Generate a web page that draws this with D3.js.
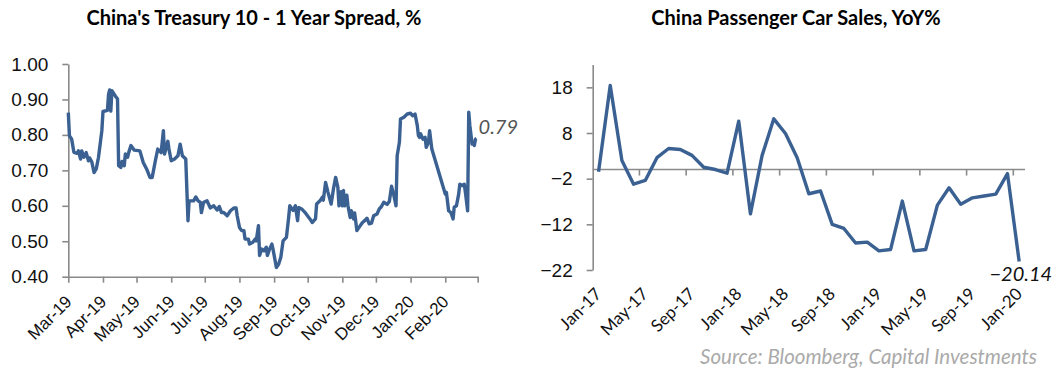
<!DOCTYPE html>
<html>
<head>
<meta charset="utf-8">
<script src="https://cdn.jsdelivr.net/npm/d3@7"></script>
<style>
  html, body { margin: 0; padding: 0; background: #fff; }
  svg { display: block; font-family: Lato, "Open Sans", sans-serif; }
  .axis path, .axis line { stroke: #8a8a8a; stroke-width: 1.6; }
  .axis text { fill: #111; }
</style>
</head>
<body>
<svg id="chart" width="1059" height="372"></svg>
<script>
// ---- China 10Y - 1Y treasury spread, daily (%) ----
const spreadDates = [
  "2019-03-01","2019-03-02","2019-03-04","2019-03-06","2019-03-09","2019-03-10","2019-03-12","2019-03-13","2019-03-15","2019-03-17",
  "2019-03-19","2019-03-20","2019-03-22","2019-03-24","2019-03-26","2019-03-28","2019-03-31","2019-04-01","2019-04-05","2019-04-06",
  "2019-04-07","2019-04-08","2019-04-09","2019-04-11","2019-04-12","2019-04-14","2019-04-15","2019-04-17","2019-04-18","2019-04-20",
  "2019-04-21","2019-04-23","2019-04-24","2019-04-26","2019-04-29","2019-05-04","2019-05-07","2019-05-10","2019-05-13","2019-05-15",
  "2019-05-18","2019-05-20","2019-05-23","2019-05-25","2019-05-26","2019-05-29","2019-05-30","2019-06-01","2019-06-04","2019-06-07",
  "2019-06-09","2019-06-11","2019-06-14","2019-06-16","2019-06-17","2019-06-21","2019-06-23","2019-06-25","2019-06-27","2019-06-28",
  "2019-06-30","2019-07-03","2019-07-06","2019-07-09","2019-07-12","2019-07-14","2019-07-16","2019-07-18","2019-07-21","2019-07-24",
  "2019-07-27","2019-07-29","2019-07-30","2019-08-01","2019-08-03","2019-08-05","2019-08-06","2019-08-09","2019-08-10","2019-08-13",
  "2019-08-15","2019-08-16","2019-08-18","2019-08-19","2019-08-21","2019-08-23","2019-08-25","2019-08-26","2019-08-28","2019-08-30",
  "2019-08-31","2019-09-03","2019-09-05","2019-09-07","2019-09-09","2019-09-12","2019-09-14","2019-09-15","2019-09-18","2019-09-20",
  "2019-09-22","2019-09-23","2019-09-26","2019-09-29","2019-10-03","2019-10-05","2019-10-08","2019-10-09","2019-10-12","2019-10-14",
  "2019-10-15","2019-10-17","2019-10-19","2019-10-22","2019-10-24","2019-10-26","2019-10-28","2019-10-29","2019-10-31","2019-11-01",
  "2019-11-02","2019-11-03","2019-11-05","2019-11-06","2019-11-08","2019-11-09","2019-11-11","2019-11-12","2019-11-14","2019-11-17",
  "2019-11-19","2019-11-21","2019-11-23","2019-11-25","2019-11-27","2019-11-29","2019-12-02","2019-12-04","2019-12-06","2019-12-08",
  "2019-12-11","2019-12-13","2019-12-15","2019-12-17","2019-12-19","2019-12-20","2019-12-22","2019-12-23","2019-12-26","2019-12-29",
  "2020-01-01","2020-01-03","2020-01-05","2020-01-07","2020-01-08","2020-01-09","2020-01-10","2020-01-12","2020-01-14","2020-01-15",
  "2020-01-17","2020-01-18","2020-01-20","2020-02-01","2020-02-02","2020-02-04","2020-02-06","2020-02-08","2020-02-09","2020-02-11",
  "2020-02-13","2020-02-14","2020-02-16","2020-02-18","2020-02-19","2020-02-21","2020-02-22","2020-02-23","2020-02-25","2020-02-26",
  "2020-02-27","2020-02-28","2020-02-29"
];
const spreadValues = [
  0.863,0.798,0.788,0.751,0.748,0.755,0.732,0.755,0.737,0.750,
  0.727,0.735,0.724,0.694,0.704,0.737,0.812,0.866,0.869,0.915,
  0.927,0.867,0.925,0.915,0.910,0.901,0.713,0.708,0.725,0.713,
  0.746,0.737,0.750,0.770,0.757,0.755,0.722,0.704,0.680,0.680,
  0.730,0.760,0.750,0.812,0.746,0.782,0.760,0.727,0.732,0.741,
  0.774,0.741,0.732,0.558,0.614,0.614,0.625,0.614,0.610,0.581,
  0.610,0.614,0.594,0.600,0.588,0.598,0.581,0.581,0.572,0.586,
  0.594,0.594,0.572,0.539,0.530,0.530,0.506,0.506,0.492,0.497,
  0.506,0.501,0.544,0.460,0.478,0.473,0.483,0.460,0.478,0.492,
  0.478,0.426,0.435,0.455,0.501,0.511,0.567,0.600,0.587,0.600,
  0.558,0.595,0.590,0.580,0.563,0.553,0.563,0.605,0.614,0.624,
  0.616,0.666,0.640,0.605,0.647,0.680,0.652,0.600,0.640,0.600,
  0.643,0.600,0.630,0.600,0.567,0.586,0.563,0.580,0.530,0.544,
  0.553,0.558,0.565,0.549,0.551,0.572,0.577,0.591,0.598,0.610,
  0.604,0.612,0.655,0.630,0.600,0.741,0.779,0.845,0.850,0.859,
  0.861,0.854,0.859,0.826,0.798,0.793,0.803,0.788,0.793,0.765,
  0.779,0.812,0.760,0.633,0.638,0.586,0.581,0.563,0.596,0.600,
  0.633,0.661,0.657,0.661,0.638,0.586,0.864,0.826,0.774,0.779,
  0.770,0.788,0.790
];
const spreadTicks = [0.40, 0.50, 0.60, 0.70, 0.80, 0.90, 1.00];
const spreadLastLabel = "0.79";

// ---- China passenger car sales, YoY % (monthly) ----
const carMonths = [
  "Jan-17","Feb-17","Mar-17","Apr-17","May-17","Jun-17","Jul-17","Aug-17","Sep-17","Oct-17","Nov-17","Dec-17",
  "Jan-18","Feb-18","Mar-18","Apr-18","May-18","Jun-18","Jul-18","Aug-18","Sep-18","Oct-18","Nov-18","Dec-18",
  "Jan-19","Feb-19","Mar-19","Apr-19","May-19","Jun-19","Jul-19","Aug-19","Sep-19","Oct-19","Nov-19","Dec-19",
  "Jan-20"
];
const carYoY = [
  -0.5, 18.4, 2.0, -3.2, -2.4, 2.6, 4.6, 4.4, 3.1, 0.5, 0.0, -0.8,
  10.6, -9.7, 3.1, 11.1, 7.9, 2.6, -5.3, -4.7, -12.0, -12.9, -16.1, -15.9,
  -17.8, -17.5, -6.9, -17.8, -17.5, -7.8, -4.0, -7.6, -6.2, -5.8, -5.4, -0.9,
  -20.14
];
const carTicks = [-22, -12, -2, 8, 18];
const carLabelEvery = 4;

const lineColor = "#3a6192";
const svg = d3.select("#chart");

// ================= Left panel: treasury spread =================
const parse = d3.timeParse("%Y-%m-%d");
const spread = spreadDates.map((d, i) => ({ date: parse(d), value: spreadValues[i] }));

const xL = d3.scaleTime()
  .domain([new Date(2019, 2, 1), new Date(2020, 2, 1)])
  .range([68.3, 477.7]);
const yL = d3.scaleLinear().domain([0.4, 1.0]).range([276.7, 64]);

svg.append("text")
  .attr("x", 254).attr("y", 25)
  .attr("text-anchor", "middle")
  .attr("font-weight", "bold").attr("font-size", 20)
  .text("China's Treasury 10 - 1 Year Spread, %");

svg.append("g").attr("class", "axis")
  .attr("transform", `translate(${xL.range()[0]},0)`)
  .call(d3.axisLeft(yL).tickValues(spreadTicks).tickFormat(d3.format(".2f"))
    .tickSize(6).tickSizeOuter(0).tickPadding(14))
  .call(g => g.selectAll("text").attr("font-size", 19));

const monthTicks = d3.timeMonth.range(new Date(2019, 2, 1), new Date(2020, 2, 2));
svg.append("g").attr("class", "axis")
  .attr("transform", `translate(0,${yL.range()[0]})`)
  .call(d3.axisBottom(xL).tickValues(monthTicks).tickFormat(d3.timeFormat("%b-%y"))
    .tickSize(6).tickSizeOuter(0))
  .call(g => g.selectAll(".tick").filter((d, i) => i === monthTicks.length - 1).select("text").remove())
  .call(g => g.selectAll("text")
    .attr("font-size", 17)
    .attr("text-anchor", "end")
    .attr("dy", 0)
    .attr("transform", "translate(4,26) rotate(-45)")
    .attr("y", 0).attr("x", 0));

svg.append("path")
  .datum(spread)
  .attr("fill", "none")
  .attr("stroke", lineColor)
  .attr("stroke-width", 3.4)
  .attr("stroke-linejoin", "round")
  .attr("d", d3.line().x(d => xL(d.date)).y(d => yL(d.value)));

const lastSpread = spread[spread.length - 1];
svg.append("text")
  .attr("x", xL(lastSpread.date) + 2).attr("y", yL(lastSpread.value) - 4)
  .attr("font-style", "italic").attr("font-size", 20).attr("fill", "#555")
  .text(spreadLastLabel);

// ================= Right panel: car sales YoY =================
const xR = d3.scaleBand().domain(carMonths).range([592.7, 1025]);
const yR = d3.scaleLinear().domain([-22, 23]).range([270, 64.5]);
const cx = m => xR(m) + xR.bandwidth() / 2;

svg.append("text")
  .attr("x", 796).attr("y", 25)
  .attr("text-anchor", "middle")
  .attr("font-weight", "bold").attr("font-size", 20)
  .text("China Passenger Car Sales, YoY%");

svg.append("g").attr("class", "axis")
  .attr("transform", `translate(${xR.range()[0]},0)`)
  .call(d3.axisLeft(yR).tickValues(carTicks).tickFormat(d3.format("d"))
    .tickSize(6).tickSizeOuter(0).tickPadding(14))
  .call(g => g.selectAll("text").attr("font-size", 19));

// Horizontal axis sits on the zero line; tick marks at every 4th category boundary
const boundaryCats = carMonths.filter((m, i) => i % carLabelEvery === 0 && i > 0);
const zeroY = yR(0);
const xAxisR = svg.append("g").attr("class", "axis");
xAxisR.append("line")
  .attr("x1", xR.range()[0]).attr("x2", xR.range()[1])
  .attr("y1", zeroY).attr("y2", zeroY);
xAxisR.selectAll("line.tk").data(boundaryCats).join("line")
  .attr("class", "tk")
  .attr("x1", d => xR(d)).attr("x2", d => xR(d))
  .attr("y1", zeroY).attr("y2", zeroY + 6);

svg.append("g").selectAll("text")
  .data(carMonths.filter((m, i) => i % carLabelEvery === 0))
  .join("text")
  .attr("font-size", 17).attr("fill", "#111")
  .attr("text-anchor", "end")
  .attr("transform", d => `translate(${cx(d) + 4},${yR.range()[0] + 25}) rotate(-45)`)
  .text(d => d);

svg.append("path")
  .datum(carMonths.map((m, i) => ({ m, v: carYoY[i] })))
  .attr("fill", "none")
  .attr("stroke", lineColor)
  .attr("stroke-width", 3.4)
  .attr("stroke-linejoin", "round")
  .attr("d", d3.line().x(d => cx(d.m)).y(d => yR(d.v)));

const lastCar = carYoY[carYoY.length - 1];
svg.append("text")
  .attr("x", cx(carMonths[carMonths.length - 1]) + 33).attr("y", yR(lastCar) + 19)
  .attr("text-anchor", "end")
  .attr("font-style", "italic").attr("font-size", 20).attr("fill", "#111")
  .text(d3.format(".2f")(lastCar));

svg.append("text")
  .attr("x", 1037).attr("y", 364)
  .attr("text-anchor", "end")
  .attr("font-style", "italic").attr("font-size", 20.5).attr("fill", "#aaa")
  .text("Source: Bloomberg, Capital Investments");
</script>
</body>
</html>
